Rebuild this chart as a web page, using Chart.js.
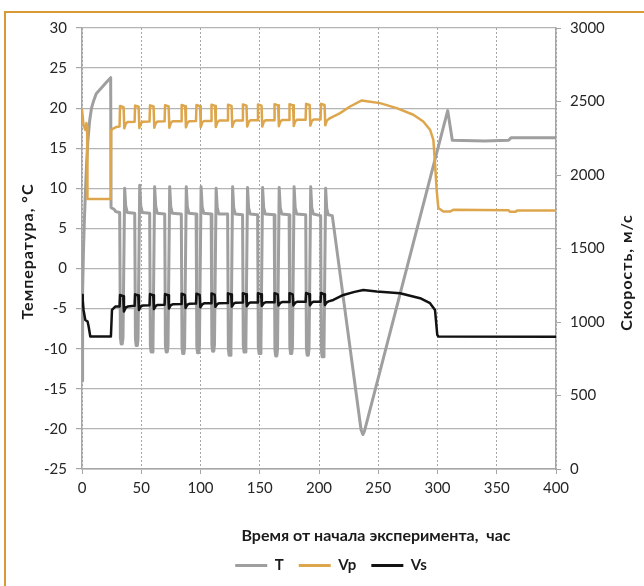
<!DOCTYPE html>
<html>
<head>
<meta charset="utf-8">
<script src="https://cdn.jsdelivr.net/npm/chart.js@4.4.1/dist/chart.umd.min.js"></script>
<style>
  html, body { margin: 0; padding: 0; background: #fff; overflow: hidden; }
  #wrap { position: relative; width: 644px; height: 586px; }
  #frame { position: absolute; left: 4px; top: 11px; width: 700px; height: 700px;
           border: 2px solid #d89a36; box-sizing: border-box; }
  canvas { position: absolute; left: 0; top: 0; }
</style>
</head>
<body>
<div id="wrap">
  <div id="frame"></div>
  <canvas id="chart" width="644" height="586"></canvas>
</div>

<script>
  // T, °C (left axis)
  const tHours = [0, 0.3, 0.7, 1.2, 2, 3, 4, 5, 6.5, 8, 10, 12, 15, 18, 21, 24.2, 24.5, 27, 28.5,
    31.8, 32.4, 33.0, 34.0, 34.6, 36.0, 36.9, 38.2,
    44.5, 45.1, 45.7, 46.7, 47.3, 48.7, 49.6, 50.9,
    57.1, 57.7, 58.3, 59.3, 59.9, 61.3, 62.2, 63.5,
    69.8, 70.4, 71.0, 72.0, 72.6, 74.0, 74.9, 76.2,
    83.8, 84.4, 85.0, 86.0, 86.6, 88.0, 88.9, 90.2,
    96.3, 96.9, 97.5, 98.5, 99.1, 100.5, 101.4, 102.7,
    109.0, 109.6, 110.2, 111.2, 111.8, 113.2, 114.1, 115.4,
    122.9, 123.5, 124.1, 125.1, 125.7, 127.1, 128.0, 129.3,
    135.5, 136.1, 136.7, 137.7, 138.3, 139.7, 140.6, 141.9,
    148.2, 148.8, 149.4, 150.4, 151.0, 152.4, 153.3, 154.6,
    162.2, 162.8, 163.4, 164.4, 165.0, 166.4, 167.3, 168.6,
    174.8, 175.4, 176.0, 177.0, 177.6, 179.0, 179.9, 181.2,
    188.8, 189.4, 190.0, 191.0, 191.6, 193.0, 193.9, 195.2,
    201.4, 202.0, 202.6, 203.6, 204.2, 205.6, 206.5, 207.8,
    211.2, 235.5, 237.0, 238.3, 308.6, 312.5, 340, 360, 362, 400];
  const tValues = [-14.0, -9, -3, 2, 6, 10, 13.5, 16, 18.5, 20, 21, 21.8, 22.3, 22.8, 23.3, 23.8, 7.6, 7.4, 7.1,
    7.0, -8.6, -9.4, -9.4, -8.6, 10.0, 7.8, 7.0,
    6.9, -8.8, -9.6, -9.6, -8.8, 10.4, 7.8, 7.0,
    6.9, -9.6, -10.4, -10.4, -9.6, 10.2, 7.8, 6.9,
    6.8, -9.6, -10.4, -10.4, -9.6, 10.2, 7.7, 6.9,
    6.8, -9.8, -10.6, -10.6, -9.8, 10.2, 7.7, 6.9,
    6.8, -9.7, -10.5, -10.5, -9.7, 10.2, 7.7, 6.9,
    6.8, -9.5, -10.3, -10.3, -9.5, 10.0, 7.6, 6.8,
    6.8, -10.0, -10.8, -10.8, -10.0, 10.2, 7.6, 6.8,
    6.7, -9.6, -10.4, -10.4, -9.6, 10.1, 7.6, 6.8,
    6.7, -9.8, -10.6, -10.6, -9.8, 10.1, 7.6, 6.8,
    6.7, -10.1, -10.9, -10.9, -10.1, 10.1, 7.6, 6.8,
    6.7, -9.8, -10.6, -10.6, -9.8, 10.2, 7.6, 6.8,
    6.7, -10.0, -10.8, -10.8, -10.0, 10.2, 7.6, 6.8,
    6.6, -10.2, -11.0, -11.0, -10.2, 10.0, 7.5, 6.7,
    6.6, -20.1, -20.7, -20.3, 19.7, 16.0, 15.9, 16.0, 16.3, 16.3];

  // Vp, m/s (right axis)
  const vpHours = [0, 1.3, 2.8, 3.7, 4.3, 4.6, 24.3, 24.6, 26.3, 29.1,
    31.7, 32.1, 35.1, 35.7, 37.0, 38.5,
    44.4, 44.8, 47.8, 48.4, 49.7, 51.2,
    57.0, 57.4, 60.4, 61.0, 62.3, 63.8,
    69.7, 70.1, 73.1, 73.7, 75.0, 76.5,
    83.7, 84.1, 87.1, 87.7, 89.0, 90.5,
    96.2, 96.6, 99.6, 100.2, 101.5, 103.0,
    108.9, 109.3, 112.3, 112.9, 114.2, 115.7,
    122.8, 123.2, 126.2, 126.8, 128.1, 129.6,
    135.4, 135.8, 138.8, 139.4, 140.7, 142.2,
    148.1, 148.5, 151.5, 152.1, 153.4, 154.9,
    162.1, 162.5, 165.5, 166.1, 167.4, 168.9,
    174.7, 175.1, 178.1, 178.7, 180.0, 181.5,
    188.7, 189.1, 192.1, 192.7, 194.0, 195.5,
    201.3, 201.7, 204.7, 205.3, 206.6, 208.1,
    209.4, 217.8, 226.2, 236.1, 241.7, 251.5, 265.6, 279.6, 288, 293.7, 296.5, 297.9,
    299.3, 300.7, 304.9, 310.5, 313.3, 360, 361, 366, 367, 400];
  const vpValues = [2444, 2341, 2307, 2353, 2330, 1836, 1836, 2305, 2316, 2327,
    2330, 2470, 2462, 2318, 2350, 2360,
    2362, 2472, 2464, 2320, 2352, 2362,
    2364, 2474, 2466, 2322, 2354, 2364,
    2365, 2475, 2467, 2322, 2355, 2366,
    2366, 2476, 2468, 2324, 2356, 2366,
    2368, 2476, 2468, 2325, 2358, 2368,
    2368, 2478, 2470, 2326, 2358, 2370,
    2370, 2478, 2470, 2328, 2360, 2370,
    2370, 2480, 2472, 2330, 2362, 2372,
    2372, 2480, 2472, 2330, 2362, 2372,
    2372, 2482, 2474, 2332, 2364, 2374,
    2374, 2482, 2474, 2334, 2366, 2376,
    2376, 2484, 2476, 2336, 2368, 2378,
    2378, 2484, 2476, 2338, 2370, 2380,
    2387, 2421, 2466, 2507, 2500, 2489, 2455, 2410, 2364, 2308, 2239, 2081,
    1899, 1775, 1751, 1751, 1763, 1760, 1750, 1750, 1758, 1758];

  // Vs, m/s (right axis)
  const vsHours = [0, 0.6, 1.3, 2.8, 4.7, 5.6, 7.0, 24.4, 25.3, 28.1,
    31.7, 32.1, 34.8, 35.4, 37.0, 38.5,
    44.4, 44.8, 47.5, 48.1, 49.7, 51.2,
    57.0, 57.4, 60.1, 60.7, 62.3, 63.8,
    69.7, 70.1, 72.8, 73.4, 75.0, 76.5,
    83.7, 84.1, 86.8, 87.4, 89.0, 90.5,
    96.2, 96.6, 99.3, 99.9, 101.5, 103.0,
    108.9, 109.3, 112.0, 112.6, 114.2, 115.7,
    122.8, 123.2, 125.9, 126.5, 128.1, 129.6,
    135.4, 135.8, 138.5, 139.1, 140.7, 142.2,
    148.1, 148.5, 151.2, 151.8, 153.4, 154.9,
    162.1, 162.5, 165.2, 165.8, 167.4, 168.9,
    174.7, 175.1, 177.8, 178.4, 180.0, 181.5,
    188.7, 189.1, 191.8, 192.4, 194.0, 195.5,
    201.3, 201.7, 204.4, 205.0, 206.6, 208.1,
    212.1, 220.6, 230, 237.4, 248.7, 268.4, 285.3, 293.7, 297.9, 299.8, 300.7, 400];
  const vsValues = [1184, 1150, 1082, 1014, 1003, 969, 901, 901, 1082, 1105,
    1105, 1184, 1176, 1071, 1099, 1105,
    1110, 1188, 1180, 1082, 1106, 1112,
    1114, 1190, 1182, 1088, 1110, 1116,
    1118, 1190, 1182, 1092, 1114, 1120,
    1122, 1192, 1184, 1096, 1118, 1124,
    1125, 1193, 1185, 1100, 1120, 1127,
    1128, 1194, 1186, 1103, 1122, 1128,
    1130, 1195, 1187, 1105, 1125, 1131,
    1132, 1196, 1188, 1108, 1127, 1133,
    1133, 1196, 1188, 1110, 1128, 1134,
    1135, 1196, 1188, 1112, 1130, 1136,
    1136, 1196, 1188, 1113, 1131, 1137,
    1137, 1197, 1189, 1114, 1132, 1138,
    1138, 1197, 1189, 1116, 1134, 1140,
    1150, 1184, 1205, 1218, 1207, 1196, 1162, 1128, 1082, 912, 901, 899];

  const seriesNames = ["T", "Vp", "Vs"];
  const xTitle = "Время от начала эксперимента,  час";
  const yTitle = "Температура, °С";
  const y1Title = "Скорость, м/с";

  const FONT = "Lato, 'Open Sans', sans-serif";
  const toPoints = (xs, ys) => xs.map((x, i) => ({ x: x, y: ys[i] }));

  // axis titles drawn on the canvas (right one reads bottom-to-top like the left one)
  function drawRotated(ctx, text, x, y) {
    ctx.save();
    ctx.translate(x, y);
    ctx.rotate(-Math.PI / 2);
    ctx.letterSpacing = "1px";
    ctx.fillText(text, 0, 0);
    ctx.restore();
  }
  const axisTitles = {
    id: "axisTitles",
    afterDraw(chart) {
      const { ctx, chartArea } = chart;
      ctx.save();
      ctx.fillStyle = "#1a1a1a";
      ctx.font = "bold 16px " + FONT;
      ctx.textAlign = "center";
      ctx.textBaseline = "middle";
      ctx.fillText(xTitle, 376, chartArea.bottom + 67);
      const midY = (chartArea.top + chartArea.bottom) / 2;
      drawRotated(ctx, yTitle, 28, midY + 3);
      drawRotated(ctx, y1Title, 627, midY + 24);
      ctx.restore();
    }
  };

  const tickFont = { family: FONT, size: 15 };
  const axisGray = "#a6a6a6";

  new Chart(document.getElementById("chart").getContext("2d"), {
    type: "line",
    data: {
      datasets: [
        { label: seriesNames[0], data: toPoints(tHours, tValues), yAxisID: "y",
          borderColor: "#9f9f9f", backgroundColor: "#9f9f9f", borderWidth: 3, order: 3 },
        { label: seriesNames[1], data: toPoints(vpHours, vpValues), yAxisID: "y1",
          borderColor: "#dea64c", backgroundColor: "#dea64c", borderWidth: 2.5, order: 2 },
        { label: seriesNames[2], data: toPoints(vsHours, vsValues), yAxisID: "y1",
          borderColor: "#121212", backgroundColor: "#121212", borderWidth: 2.5, order: 1 }
      ]
    },
    options: {
      responsive: false,
      animation: false,
      devicePixelRatio: 1,
      layout: { padding: { left: 26, right: 8, top: 28, bottom: 3 } },
      elements: {
        point: { radius: 0 },
        line: { tension: 0, fill: false, borderJoinStyle: "round", borderCapStyle: "round" }
      },
      plugins: {
        tooltip: { enabled: false },
        legend: {
          position: "bottom",
          labels: {
            boxWidth: 32,
            boxHeight: 3,
            padding: 15,
            color: "#1a1a1a",
            font: { family: FONT, size: 15, weight: "bold" },
            generateLabels(chart) {
              const items = Chart.defaults.plugins.legend.labels.generateLabels(chart);
              items.forEach(it => { it.lineWidth = 0; });
              return items.sort((a, b) => a.datasetIndex - b.datasetIndex);
            }
          }
        }
      },
      scales: {
        x: {
          type: "linear", min: 0, max: 400,
          ticks: { stepSize: 50, color: "#262626", font: tickFont, padding: 5, maxRotation: 0,
                   callback: v => String(v) },
          grid: { color: axisGray, lineWidth: 1, tickLength: 5, tickBorderDash: [] },
          border: { display: true, color: axisGray, width: 1.5, dash: [2, 2] },
          afterFit(s) { s.height = 74; s.paddingLeft = 0; s.paddingRight = 0; }
        },
        y: {
          position: "left", min: -25, max: 30,
          ticks: { stepSize: 5, color: "#262626", font: tickFont, padding: 9,
                   callback: v => String(v) },
          grid: { color: "#b4b4b4", lineWidth: 1.2, tickLength: 6, tickColor: axisGray },
          border: { color: axisGray, width: 1.5 },
          afterFit(s) { s.width = 56; s.paddingTop = 0; s.paddingBottom = 0; }
        },
        y1: {
          position: "right", min: 0, max: 3000,
          ticks: { stepSize: 500, color: "#262626", font: tickFont, padding: 9,
                   callback: v => String(v) },
          grid: { drawOnChartArea: false, color: axisGray, tickLength: 5 },
          border: { color: axisGray, width: 1.5 },
          afterFit(s) { s.width = 80; s.paddingTop = 0; s.paddingBottom = 0; }
        }
      }
    },
    plugins: [axisTitles]
  });
</script>
</body>
</html>
